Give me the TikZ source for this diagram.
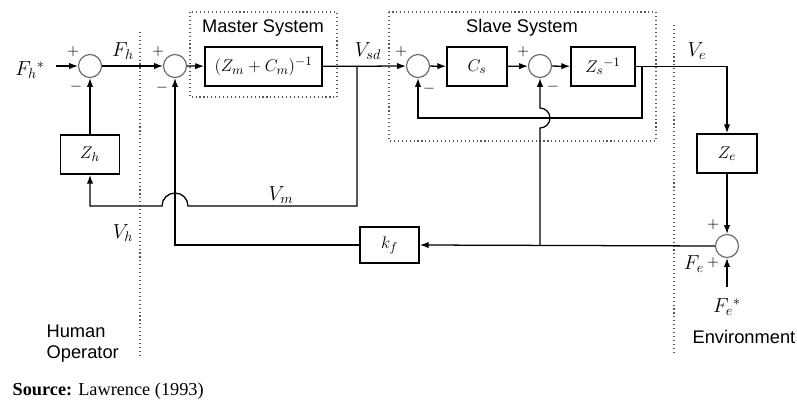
\documentclass[tikz,border=0pt]{standalone}
\usepackage{fontspec}
\setmainfont{Liberation Serif}
\setsansfont{Liberation Sans}
\usetikzlibrary{arrows.meta}

\begin{document}
\begin{tikzpicture}[x=0.025cm,y=-0.025cm,line width=0.9pt,
    >={Latex[length=2.2mm,width=1.6mm]},
    blok/.style={draw,line width=1.2pt,minimum height=0.975cm,inner sep=0pt,font=\fontsize{13}{15}\selectfont},
    sumj/.style={draw=black!60,circle,minimum size=0.575cm,inner sep=0pt,line width=0.8pt},
    lbl/.style={font=\fontsize{14}{16}\selectfont,inner sep=0pt},
    sgn/.style={font=\fontsize{11}{12}\selectfont,inner sep=0pt},
    sys/.style={font=\sffamily\fontsize{13}{15}\selectfont,inner sep=0pt},
    frontier/.style={dotted,line width=0.8pt,black!65}]
    \useasboundingbox (0,0) rectangle (797,401);
    % fronteras y subsistemas
    \draw[frontier] (140,32) -- (140,358);
    \draw[frontier] (674,25) -- (674,355);
    \draw[frontier] (190,12) rectangle (337,97);
    \draw[frontier] (389,12) rectangle (656,141);
    \node[sys] (master) at (263,28) {Master System};
    \node[sys] (slave) at (522,28) {Slave System};
    % bloques y sumadores
    \node[sumj] (s1) at (90,66) {};
    \node[sumj] (s2) at (175,66) {};
    \node[blok,minimum width=2.93cm] (Gm) at (263.5,66.5) {$(Z_m+C_m)^{-1}$};
    \node[sumj] (s3) at (418,66) {};
    \node[blok,minimum width=1.5cm] (Cs) at (477,66.5) {$C_s$};
    \node[sumj] (s4) at (540,66) {};
    \node[blok,minimum width=1.6cm] (Zs) at (603,66.5) {$Z_s{}^{-1}$};
    \node[blok,minimum width=1.5cm] (Ze) at (727,153.5) {$Z_e$};
    \node[sumj] (s5) at (727,246) {};
    \node[blok,minimum width=1.475cm,minimum height=0.9cm] (kf) at (389.5,245) {$k_f$};
    \node[blok,minimum width=1.475cm] (Zh) at (90,154.5) {$Z_h$};
    \coordinate (fin) at (56,66);
    \coordinate (vsd) at (357,66);
    \coordinate (ve) at (642,66);
    \coordinate (fb) at (642,118);
    \coordinate (fe) at (727,287);
    \coordinate (kb) at (540,245);
    % senales
    \draw[->] (fin) -- (s1.west);
    \draw[->] (s1) -- (s2);
    \draw[->] (s2) -- (Gm);
    \draw[->] (Gm) -- (s3);
    \draw[->] (s3) -- (Cs);
    \draw[->] (Cs) -- (s4);
    \draw[->] (s4) -- (Zs);
    \draw[->] (Zs.east) -| (Ze.north);
    \draw[->] (Ze) -- (s5);
    \draw[->] (fe) -- (s5.south);
    \draw[->] (s5.west) -- (kf.east);
    \draw[->] (kf.west) -| (s2.south);
    \draw[->] (Zh) -- (s1);
    \draw[->] (ve) -- (fb) -| (s3.south);
    \draw[->] (vsd) |- (188,206) arc[start angle=0,end angle=180,radius=0.325cm] -- (90,206) -- (Zh.south);
    \draw[->] (kb) -- (540,128) arc[start angle=-90,end angle=90,radius=0.25cm] -- (s4.south);
    % etiquetas
    \node[lbl] (lfh0) at (30,70) {$F_h{}^*$};
    \node[lbl] (lfh) at (123,51) {$F_h$};
    \node[lbl] (lvsd) at (368,51) {$V_{sd}$};
    \node[lbl] (lve) at (697,51) {$V_e$};
    \node[lbl] (lvm) at (281,195) {$V_m$};
    \node[lbl] (lvh) at (123,233) {$V_h$};
    \node[lbl] (lfe) at (694,264) {$F_e$};
    \node[lbl] (lfe0) at (727,307) {$F_e{}^*$};
    \node[sgn] at (73,52) {$+$};
    \node[sgn] at (76,87) {$-$};
    \node[sgn] at (158,52) {$+$};
    \node[sgn] at (162,88) {$-$};
    \node[sgn] at (401,52) {$+$};
    \node[sgn] at (429,89) {$-$};
    \node[sgn] at (523,52) {$+$};
    \node[sgn] at (553,87) {$-$};
    \node[sgn] at (713,225) {$+$};
    \node[sgn] at (713,263) {$+$};
    \node[sys,anchor=north west,align=left] (human) at (46,324) {Human\\Operator};
    \node[sys,anchor=west] (env) at (692,337) {Environment};
    \node[anchor=west,inner sep=0pt,font=\fontsize{13}{15}\selectfont] (src) at (12,391) {\textbf{Source:} Lawrence (1993)};
\end{tikzpicture}
\end{document}
